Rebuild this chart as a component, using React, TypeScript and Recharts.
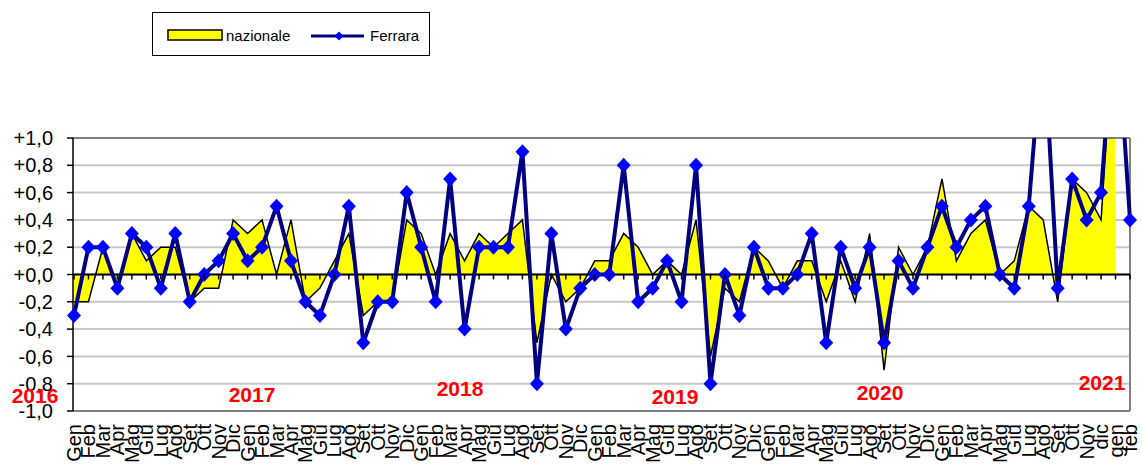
import React from "react";
import { ComposedChart, Area, Line, XAxis, YAxis, CartesianGrid, ReferenceLine } from "recharts";

const labels = [
  "Gen", "Feb", "Mar", "Apr", "Mag", "Giu", "Lug", "Ago", "Set", "Ott", "Nov", "Dic",
  "Gen", "Feb", "Mar", "Apr", "Mag", "Giu", "Lug", "Ago", "Set", "Ott", "Nov", "Dic",
  "Gen", "Feb", "Mar", "Apr", "Mag", "Giu", "Lug", "Ago", "Set", "Ott", "Nov", "Dic",
  "Gen", "Feb", "Mar", "Apr", "Mag", "Giu", "Lug", "Ago", "Set", "Ott", "Nov", "Dic",
  "Gen", "Feb", "Mar", "Apr", "Mag", "Giu", "Lug", "Ago", "Set", "Ott", "Nov", "Dic",
  "Gen", "Feb", "Mar", "Apr", "Mag", "Giu", "Lug", "Ago", "Set", "Ott", "Nov", "dic",
  "gen", "feb",
];

const nazionale = [
  -0.2, -0.2, 0.2, -0.1, 0.3, 0.1, 0.2, 0.2, -0.2, -0.1, -0.1, 0.4,
  0.3, 0.4, 0.0, 0.4, -0.2, -0.1, 0.1, 0.3, -0.3, -0.2, -0.2, 0.4,
  0.3, 0.0, 0.3, 0.1, 0.3, 0.2, 0.3, 0.4, -0.5, 0.0, -0.2, -0.1,
  0.1, 0.1, 0.3, 0.2, 0.0, 0.1, 0.0, 0.4, -0.6, -0.1, -0.2, 0.2,
  0.1, -0.1, 0.1, 0.1, -0.2, 0.1, -0.2, 0.3, -0.7, 0.2, 0.0, 0.2,
  0.7, 0.1, 0.3, 0.4, 0.0, 0.1, 0.5, 0.4, -0.2, 0.7, 0.6, 0.4,
  2.0, null,
];

const ferrara = [
  -0.3, 0.2, 0.2, -0.1, 0.3, 0.2, -0.1, 0.3, -0.2, 0.0, 0.1, 0.3,
  0.1, 0.2, 0.5, 0.1, -0.2, -0.3, 0.0, 0.5, -0.5, -0.2, -0.2, 0.6,
  0.2, -0.2, 0.7, -0.4, 0.2, 0.2, 0.2, 0.9, -0.8, 0.3, -0.4, -0.1,
  0.0, 0.0, 0.8, -0.2, -0.1, 0.1, -0.2, 0.8, -0.8, 0.0, -0.3, 0.2,
  -0.1, -0.1, 0.0, 0.3, -0.5, 0.2, -0.1, 0.2, -0.5, 0.1, -0.1, 0.2,
  0.5, 0.2, 0.4, 0.5, 0.0, -0.1, 0.5, 1.8, -0.1, 0.7, 0.4, 0.6,
  2.0, 0.4,
];

const yTicks = [-1, -0.8, -0.6, -0.4, -0.2, 0, 0.2, 0.4, 0.6, 0.8, 1];

const years = ["2016", "2017", "2018", "2019", "2020", "2021"];
// where the year captions sit on the picture (centre x, centre y)
const yearPos = [
  [35, 395], [252, 394], [460, 388], [675, 396], [880, 392], [1102, 382],
];

const data = labels.map((label, i) => ({
  k: String(i),
  label,
  nazionale: nazionale[i],
  ferrara: ferrara[i],
}));
const lastKey = String(labels.length - 1);

const W = 1142;
const H = 466;
const TOP = 138;
const BOTTOM = 411;
const ZERO_Y = (TOP + BOTTOM) / 2;
const FONT = "'Liberation Sans', Arial, sans-serif";

const fmtY = (v: number) => (v < -1e-9 ? "-" : "+") + Math.abs(v).toFixed(1).replace(".", ",");

const XTick = (props: any) => {
  const { x, payload } = props;
  return (
    <g>
      <line x1={x} x2={x} y1={ZERO_Y} y2={ZERO_Y + 5} stroke="#000" strokeWidth={1.5} />
      <text
        transform={`translate(${x + 7},${BOTTOM + 13}) rotate(-90)`}
        textAnchor="end"
        fontSize={20}
        fontFamily={FONT}
        fill="#000"
      >
        {labels[Number(payload.value)]}
      </text>
    </g>
  );
};

const Diamond = (props: any) => {
  const { cx, cy, index } = props;
  if (cx == null || cy == null) return <g key={`d-${index}`} />;
  return (
    <polygon
      key={`d-${index}`}
      points={`${cx},${cy - 7.5} ${cx + 7},${cy} ${cx},${cy + 7.5} ${cx - 7},${cy}`}
      fill="#0000ff"
    />
  );
};

function LegendBox() {
  return (
    <div
      style={{
        position: "absolute",
        left: 152,
        top: 12,
        width: 276,
        height: 42,
        border: "1px solid #000",
        background: "#fff",
      }}
    >
      <svg width={276} height={42} style={{ display: "block" }}>
        <rect x={15} y={17} width={54} height={10} fill="#ffff00" stroke="#000" strokeWidth={1.5} />
        <text x={73} y={28} fontSize={15} fontFamily={FONT} fill="#000">nazionale</text>
        <line x1={158} x2={211} y1={23} y2={23} stroke="#000080" strokeWidth={3} />
        <polygon points="186,18.5 190.5,23 186,27.5 181.5,23" fill="#0000ff" />
        <text x={217} y={28} fontSize={15} fontFamily={FONT} fill="#000">Ferrara</text>
      </svg>
    </div>
  );
}

export default function App() {
  return (
    <div style={{ position: "absolute", left: 0, top: 0, width: W, height: H, background: "#fff", fontFamily: FONT }}>
      <ComposedChart
        width={W}
        height={H}
        data={data}
        margin={{ top: TOP, right: 12, bottom: 0, left: 0 }}
      >
        <CartesianGrid vertical={false} stroke="#c8c8c8" strokeWidth={2} />
        <XAxis
          dataKey="k"
          type="category"
          padding={{ left: 1, right: 0 }}
          interval={0}
          height={H - BOTTOM}
          axisLine={false}
          tickLine={false}
          tick={XTick}
        />
        <YAxis
          type="number"
          domain={[-1, 1]}
          ticks={yTicks}
          interval={0}
          allowDataOverflow
          width={73}
          tickSize={6}
          tickMargin={14}
          tickFormatter={fmtY}
          axisLine={{ stroke: "#000", strokeWidth: 1.5 }}
          tickLine={{ stroke: "#000", strokeWidth: 1.5 }}
          tick={{ fill: "#000", fontSize: 20, fontFamily: FONT }}
        />
        <ReferenceLine y={1} stroke="#808080" strokeWidth={2} />
        <ReferenceLine y={-1} stroke="#808080" strokeWidth={2} />
        <ReferenceLine x={lastKey} stroke="#808080" strokeWidth={2} />
        <Area
          type="linear"
          dataKey="nazionale"
          fill="#ffff00"
          fillOpacity={1}
          stroke="#000"
          strokeWidth={1.5}
          dot={false}
          activeDot={false}
          isAnimationActive={false}
        />
        <ReferenceLine y={0} stroke="#000" strokeWidth={2} />
        <Line
          type="linear"
          dataKey="ferrara"
          stroke="#000080"
          strokeWidth={4}
          dot={Diamond}
          activeDot={false}
          isAnimationActive={false}
        />
      </ComposedChart>
      {years.map((y, i) => (
        <div
          key={y}
          style={{
            position: "absolute",
            left: yearPos[i][0],
            top: yearPos[i][1],
            transform: "translate(-50%, -50%)",
            color: "#ff0000",
            fontWeight: "bold",
            fontSize: 21,
            lineHeight: 1,
          }}
        >
          {y}
        </div>
      ))}
      <LegendBox />
    </div>
  );
}
